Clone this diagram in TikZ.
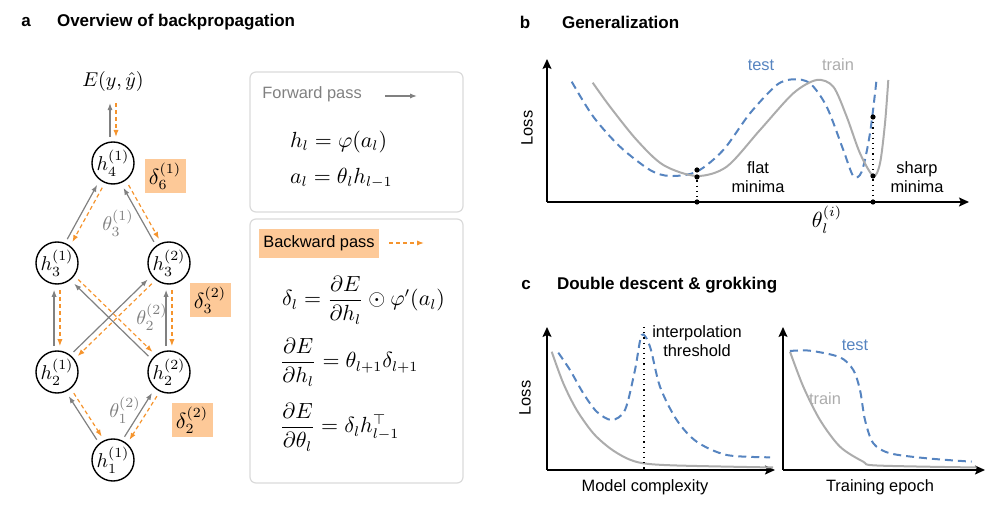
\documentclass[tikz,border=0pt]{standalone}
\usepackage{amsmath, amssymb}
\usepackage[no-math]{fontspec}
\setmainfont{Liberation Sans}
\usepackage{tikz}
\usetikzlibrary{arrows.meta,%
                positioning}
\definecolor{bporange}{RGB}{245,148,45}
\definecolor{bpfill}{RGB}{253,201,152}
\definecolor{fwdgray}{RGB}{128,128,128}
\definecolor{curvegray}{RGB}{172,172,172}
\definecolor{testblue}{RGB}{86,132,192}
\definecolor{boxgray}{RGB}{218,218,218}

\begin{document}
\begin{tikzpicture}[x = 0.5pt, y = -0.5pt, node distance = 20pt]
  \useasboundingbox (0,0) rectangle (997,506);
  \tikzset{VertexStyle/.style = {shape          = circle,
                                 draw,
                                 line width     = 0.7pt,
                                 text           = black,
                                 inner sep      = 0pt,
                                 outer sep      = 0pt,
                                 minimum size   = 21pt,
                                 font           = \fontsize{10}{12}\selectfont}}
  \tikzset{FwdStyle/.style    = {fwdgray,
                                 line width     = 0.6pt,
                                 -{Latex[length=3.5pt,width=2.6pt]}}}
  \tikzset{BwdStyle/.style    = {bporange,
                                 line width     = 0.6pt,
                                 dash pattern   = on 2pt off 1.5pt,
                                 -{Latex[length=3.5pt,width=2.6pt]}}}
  \tikzset{DeltaStyle/.style  = {fill           = bpfill,
                                 minimum width  = 20.5pt,
                                 minimum height = 17pt,
                                 inner sep      = 1pt,
                                 font           = \fontsize{10.5}{12}\selectfont}}
  \tikzset{ThetaStyle/.style  = {text           = fwdgray,
                                 font           = \fontsize{10}{12}\selectfont}}
  \tikzset{TitleStyle/.style  = {font           = \fontsize{8.5}{10}\selectfont\bfseries}}
  \tikzset{TextStyle/.style   = {font           = \fontsize{8.2}{9.5}\selectfont,
                                 align          = center}}
  \tikzset{EqStyle/.style     = {anchor         = west,
                                 font           = \fontsize{10.5}{12}\selectfont}}
  \tikzset{PanelBox/.style    = {draw           = boxgray,
                                 line width     = 0.6pt,
                                 rounded corners = 3pt}}
  \tikzset{AxisStyle/.style   = {line width     = 0.75pt,
                                 -{Stealth[length=5pt,width=4.5pt,inset=1pt]}}}
  \tikzset{TrainStyle/.style  = {curvegray,
                                 line width     = 1pt}}
  \tikzset{TestStyle/.style   = {testblue,
                                 line width     = 1pt,
                                 dash pattern   = on 4pt off 2.5pt}}

  % titles
  \node[TitleStyle] (la) at (26,22) {a};
  \node[TitleStyle, anchor=west] (ta) at (50,22) {Overview of backpropagation};
  \node[TitleStyle] (lb) at (525,22) {b};
  \node[TitleStyle, anchor=west] (tb) at (555,22) {Generalization};
  \node[TitleStyle] (lc) at (526,285) {c};
  \node[TitleStyle, anchor=west] (tc) at (550,285) {Double descent \& grokking};

  % network
  \begin{scope}[on grid]
     \node[VertexStyle] (h11) at (113,460) {$h_1^{(1)}$};
     \node[VertexStyle, above left  = 44pt and 28pt of h11] (h21) {$h_2^{(1)}$};
     \node[VertexStyle, above right = 44pt and 28pt of h11] (h22) {$h_2^{(2)}$};
     \node[VertexStyle, above = 54.5pt of h21] (h31) {$h_3^{(1)}$};
     \node[VertexStyle, above = 54.5pt of h22] (h32) {$h_3^{(2)}$};
     \node[VertexStyle, above right = 50pt and 28pt of h31] (h41) {$h_4^{(1)}$};
     \node[above = 40.5pt of h41, font=\fontsize{10}{12}\selectfont] (E) {$E(y,\hat{y})$};
  \end{scope}
  \foreach \a/\b/\ang [evaluate = \ang as \fa using \ang+8,
                       evaluate = \ang as \fb using \ang+172,
                       evaluate = \ang as \ba using \ang+188,
                       evaluate = \ang as \bb using \ang-8]
     in {h11/h21/122.5, h11/h22/57.5, h21/h31/90, h22/h32/90,
         h21/h32/44, h22/h31/136, h31/h41/60.75, h32/h41/119.25}{
     \draw[FwdStyle, shorten <=2.5pt, shorten >=3pt] (\a.\fa) -- (\b.\fb);
     \draw[BwdStyle, shorten <=3pt, shorten >=2.5pt] (\b.\ba) -- (\a.\bb);
  }
  \draw[FwdStyle, shorten <=2.5pt, shorten >=2pt] ([xshift=-1.5pt]h41.north) -- ([xshift=-1.5pt]E.south);
  \draw[BwdStyle, shorten <=2pt, shorten >=2.5pt] ([xshift=1.5pt]E.south) -- ([xshift=1.5pt]h41.north);

  \node[DeltaStyle] (d6) at (165,176) {$\delta_6^{(1)}$};
  \node[DeltaStyle] (d3) at (210,300) {$\delta_3^{(2)}$};
  \node[DeltaStyle] (d2) at (192,420) {$\delta_2^{(2)}$};
  \node[ThetaStyle] (t3) at (118,223) {$\theta_3^{(1)}$};
  \node[ThetaStyle] (t2) at (152,317) {$\theta_2^{(2)}$};
  \node[ThetaStyle] (t1) at (125,410) {$\theta_1^{(2)}$};

  % forward / backward boxes
  \draw[PanelBox] (250,72) rectangle (463,212);
  \draw[PanelBox] (250,219) rectangle (463,483);
  \node[TextStyle, anchor=west, text=fwdgray, inner sep=0pt] (fwd) at (262,94) {Forward pass};
  \coordinate (fwdA) at (385,96);
  \coordinate (fwdB) at (417,96);
  \draw[FwdStyle] (fwdA) -- (fwdB);
  \node[EqStyle] (eq1) at (283,142) {$h_l = \varphi(a_l)$};
  \node[EqStyle] (eq2) at (283,178) {$a_l = \theta_l h_{l-1}$};

  \node[TextStyle, anchor=west, fill=bpfill, minimum height=14.5pt, inner xsep=2pt] (bwd) at (259,243.5) {Backward pass};
  \coordinate (bwdA) at (389,243);
  \coordinate (bwdB) at (424,243);
  \draw[BwdStyle] (bwdA) -- (bwdB);
  \node[EqStyle] (eq3) at (275,300) {$\delta_l = \dfrac{\partial E}{\partial h_l} \odot \varphi'(a_l)$};
  \node[EqStyle] (eq4) at (273,362) {$\dfrac{\partial E}{\partial h_l} = \theta_{l+1}\delta_{l+1}$};
  \node[EqStyle] (eq5) at (273,427) {$\dfrac{\partial E}{\partial \theta_l} = \delta_l h_{l-1}^{\top}$};

  % generalization
  \coordinate (bO) at (547,202);
  \draw[AxisStyle] (bO) -- (547,59);
  \draw[AxisStyle] (bO) -- (969,202);
  \node[TextStyle, rotate=90] (lossb) at (527,128) {Loss};
  \draw[TestStyle] plot[smooth] coordinates {(571.7,81.7) (593.3,116.7) (620,146.7) (650,170)
     (670,176) (696.7,171.7) (723.3,150) (750,113.3) (776.7,85) (793.3,79.3) (810,83.3)
     (826.7,106.7) (843.3,150) (853.3,176) (861.7,171.7) (870,133.3) (876.7,78.3)};
  \draw[TrainStyle] plot[smooth] coordinates {(592.7,82.7) (610,106.7) (636.7,140) (663.3,165)
     (696.7,176) (726.7,166.7) (760,130) (793.3,93.3) (816.7,80) (833.3,86.7) (846.7,116.7)
     (860,153.3) (873.3,176) (880,163.3) (885,123.3) (888.3,80)};
  \coordinate (flatT) at (697,170);
  \coordinate (flatR) at (697,177);
  \coordinate (flatA) at (697,202);
  \coordinate (sharpT) at (873,117);
  \coordinate (sharpR) at (873,176);
  \coordinate (sharpA) at (873,202);
  \draw[dotted, line width=0.6pt] (flatT) -- (flatA);
  \draw[dotted, line width=0.6pt] (sharpT) -- (sharpA);
  \foreach \p in {flatT, flatR, flatA, sharpT, sharpR, sharpA}
     \fill (\p) circle (2.6);
  \node[TextStyle, text=testblue] (testb) at (761,65) {test};
  \node[TextStyle, text=curvegray] (trainb) at (838,65) {train};
  \node[TextStyle] (flat) at (758,177) {flat\\minima};
  \node[TextStyle] (sharp) at (917,177) {sharp\\minima};
  \node[font=\fontsize{10.5}{12}\selectfont] (theta) at (827,220) {$\theta_l^{(i)}$};

  % double descent
  \coordinate (cO) at (547,470);
  \draw[AxisStyle] (cO) -- (547,327);
  \draw[AxisStyle] (cO) -- (775,470);
  \node[TextStyle, rotate=90] (lossc) at (525,398) {Loss};
  \draw[TrainStyle] plot[smooth] coordinates {(551.7,351.7) (563.3,383.3) (576.7,410) (593.3,433.3)
     (610,448.3) (626.7,458.3) (643.3,463.3) (676.7,465.5) (773,467.5)};
  \draw[TestStyle] plot[smooth] coordinates {(558.3,352.7) (570,370) (583.3,393.3) (596.7,411.7)
     (611.7,420) (625,410) (635,370) (641.7,335) (650,346.7) (660,386.7) (676.7,420)
     (696.7,441.7) (726.7,455) (770,457.3)};
  \coordinate (thrT) at (644,327);
  \coordinate (thrA) at (644,470);
  \draw[dotted, line width=0.6pt] (thrT) -- (thrA);
  \node[TextStyle] (interp) at (697,341) {interpolation\\threshold};
  \node[TextStyle] (xlc) at (645,487) {Model complexity};

  % grokking
  \coordinate (dO) at (783,470);
  \draw[AxisStyle] (dO) -- (783,327);
  \draw[AxisStyle] (dO) -- (985,470);
  \draw[TrainStyle] plot[smooth] coordinates {(790,351.7) (803.3,386.7) (820,420) (840,446.7)
     (863.3,461.7) (876.7,465.5) (976.7,467.5)};
  \draw[TestStyle] plot[smooth] coordinates {(790,351) (810,350.7) (840,357.3) (853.3,370)
     (860,390) (865,420) (873.3,443.3) (890,453.3) (926.7,458.3) (971.7,461.7)};
  \node[TextStyle, text=testblue] (testc) at (855,345) {test};
  \node[TextStyle, text=curvegray] (trainc) at (825,399) {train};
  \node[TextStyle] (xrc) at (880,487) {Training epoch};
\end{tikzpicture}
\end{document}
